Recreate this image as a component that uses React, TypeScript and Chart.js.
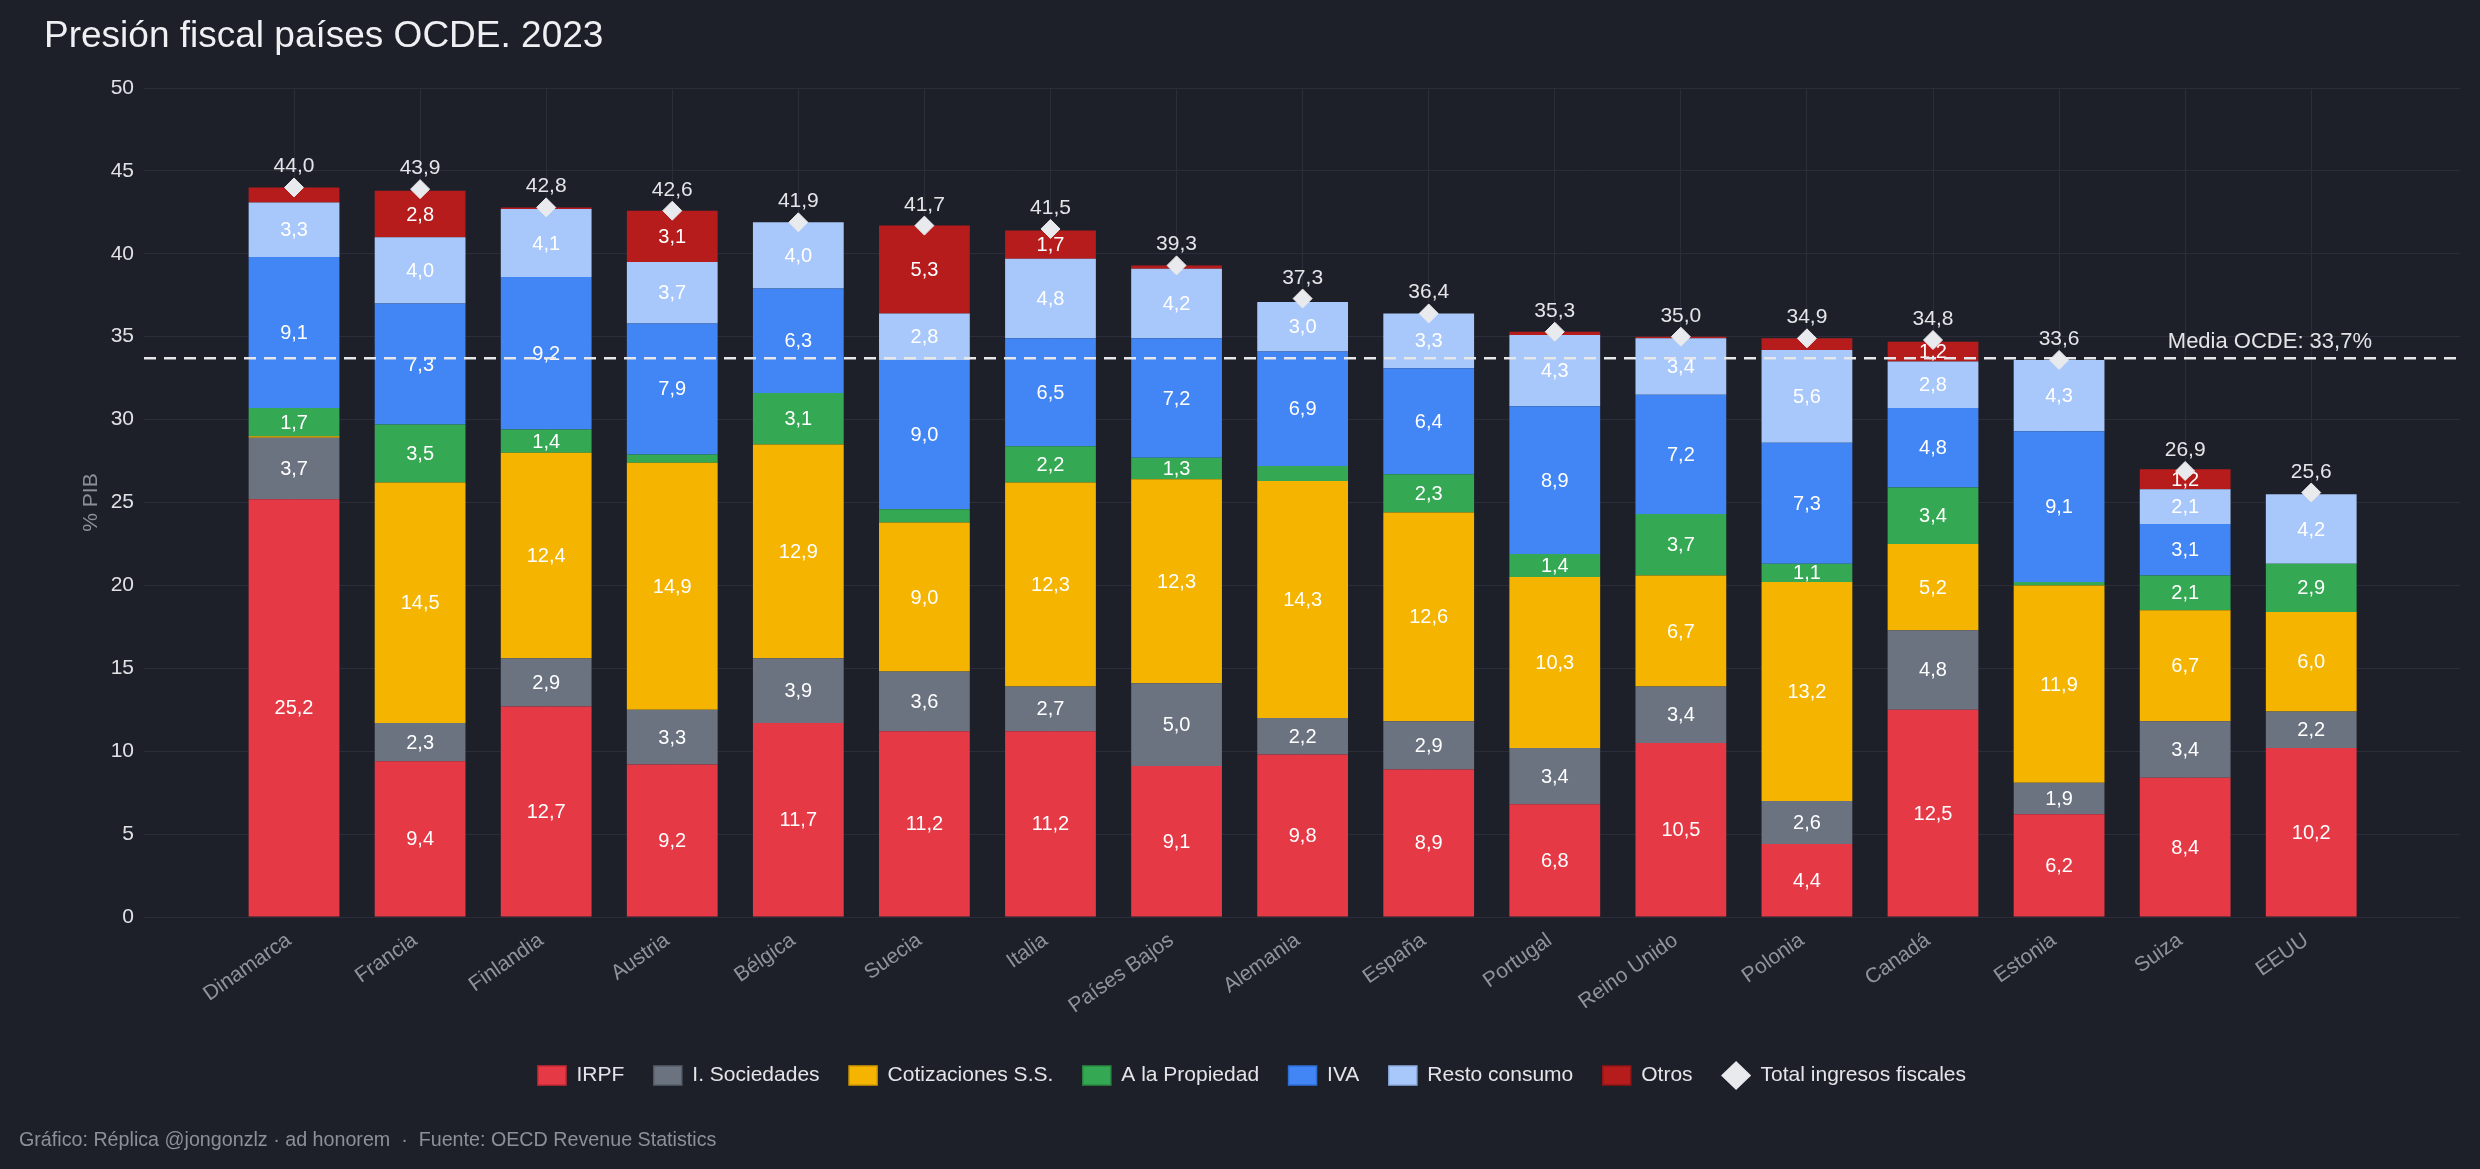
import { useEffect, useRef } from "react";
import { Chart, registerables } from "chart.js";

Chart.register(...registerables);

// Países ordenados por presión fiscal total (% del PIB)
const paises = [
  "Dinamarca", "Francia", "Finlandia", "Austria", "Bélgica", "Suecia", "Italia",
  "Países Bajos", "Alemania", "España", "Portugal", "Reino Unido", "Polonia",
  "Canadá", "Estonia", "Suiza", "EEUU",
];

// Componentes de la recaudación (% PIB)
const irpf = [25.2, 9.4, 12.7, 9.2, 11.7, 11.2, 11.2, 9.1, 9.8, 8.9, 6.8, 10.5, 4.4, 12.5, 6.2, 8.4, 10.2];
const sociedades = [3.7, 2.3, 2.9, 3.3, 3.9, 3.6, 2.7, 5.0, 2.2, 2.9, 3.4, 3.4, 2.6, 4.8, 1.9, 3.4, 2.2];
const cotizaciones = [0.1, 14.5, 12.4, 14.9, 12.9, 9.0, 12.3, 12.3, 14.3, 12.6, 10.3, 6.7, 13.2, 5.2, 11.9, 6.7, 6.0];
const propiedad = [1.7, 3.5, 1.4, 0.5, 3.1, 0.8, 2.2, 1.3, 0.9, 2.3, 1.4, 3.7, 1.1, 3.4, 0.2, 2.1, 2.9];
const iva = [9.1, 7.3, 9.2, 7.9, 6.3, 9.0, 6.5, 7.2, 6.9, 6.4, 8.9, 7.2, 7.3, 4.8, 9.1, 3.1, 0];
const restoConsumo = [3.3, 4.0, 4.1, 3.7, 4.0, 2.8, 4.8, 4.2, 3.0, 3.3, 4.3, 3.4, 5.6, 2.8, 4.3, 2.1, 4.2];
const otros = [0.9, 2.8, 0.1, 3.1, 0, 5.3, 1.7, 0.2, 0, 0, 0.2, 0.1, 0.7, 1.2, 0, 1.2, 0];

// Total de ingresos fiscales (% PIB)
const totales = [44.0, 43.9, 42.8, 42.6, 41.9, 41.7, 41.5, 39.3, 37.3, 36.4, 35.3, 35.0, 34.9, 34.8, 33.6, 26.9, 25.6];

const mediaOcde = 33.7;

const seriesNombres = ["IRPF", "I. Sociedades", "Cotizaciones S.S.", "A la Propiedad", "IVA", "Resto consumo", "Otros"];
const seriesValores = [irpf, sociedades, cotizaciones, propiedad, iva, restoConsumo, otros];
const seriesColores = ["#e63946", "#6b7280", "#f4b400", "#34a853", "#4285f4", "#a8c7fa", "#b71c1c"];
const seriesBordes = ["#c92a37", "#565d68", "#d39b00", "#2a8a43", "#2f6fd8", "#8eaee0", "#931414"];

const TITULO = "Presión fiscal países OCDE. 2023";
const PIE = "Gráfico: Réplica @jongonzlz · ad honorem  ·  Fuente: OECD Revenue Statistics";

const BG = "#1e2029";
const GRID = "#2b2e3a";
const DIAMANTE = "#e8eaed";
const FONT = "'Liberation Sans', Arial, Helvetica, sans-serif";

const fmt = (v: number) => v.toFixed(1).replace(".", ",");

export default function App() {
  const ref = useRef<HTMLCanvasElement>(null);

  useEffect(() => {
    const canvas = ref.current;
    if (!canvas) return;

    const barras = seriesNombres.map((nombre, s) => ({
      type: "bar" as const,
      label: nombre,
      data: seriesValores[s].map((v, i) => ({ x: i, y: v })),
      backgroundColor: seriesColores[s],
      borderColor: seriesBordes[s],
      borderWidth: 0,
      categoryPercentage: 1,
      barPercentage: 0.72,
      order: 1,
    }));

    const total = {
      type: "line" as const,
      label: "Total ingresos fiscales",
      data: totales.map((v, i) => ({ x: i, y: v })),
      showLine: false,
      pointStyle: "rectRot",
      pointRadius: 9.5,
      pointHoverRadius: 9.5,
      pointBackgroundColor: DIAMANTE,
      pointBorderColor: DIAMANTE,
      pointBorderWidth: 1,
      backgroundColor: DIAMANTE,
      borderColor: DIAMANTE,
      order: 0,
    };

    const rotulos = {
      id: "rotulos",
      afterDatasetDraw(chart: any, args: any) {
        if (args.index !== 0) return;
        const ctx = chart.ctx;
        const area = chart.chartArea;
        // valores dentro de cada segmento
        ctx.save();
        ctx.font = `20px ${FONT}`;
        ctx.fillStyle = "#ffffff";
        ctx.textAlign = "center";
        ctx.textBaseline = "middle";
        for (let s = 0; s < seriesNombres.length; s++) {
          const meta = chart.getDatasetMeta(s);
          meta.data.forEach((bar: any, i: number) => {
            const v = seriesValores[s][i];
            if (v < 1.05) return;
            ctx.fillText(fmt(v), bar.x, (bar.y + bar.base) / 2 + 1);
          });
        }
        // línea de la media OCDE
        const y = chart.scales.y.getPixelForValue(mediaOcde);
        ctx.strokeStyle = "#e6e7ea";
        ctx.lineWidth = 2.5;
        ctx.setLineDash([12, 8]);
        ctx.beginPath();
        ctx.moveTo(area.left, y);
        ctx.lineTo(area.right, y);
        ctx.stroke();
        ctx.setLineDash([]);
        ctx.font = `22px ${FONT}`;
        ctx.fillStyle = "#e3e5e8";
        ctx.textAlign = "right";
        ctx.textBaseline = "alphabetic";
        ctx.fillText(`Media OCDE: ${fmt(mediaOcde)}%`, area.right - 88, y - 10);
        ctx.restore();
      },
      afterDatasetsDraw(chart: any) {
        const ctx = chart.ctx;
        const meta = chart.getDatasetMeta(seriesNombres.length);
        ctx.save();
        ctx.font = `21px ${FONT}`;
        ctx.fillStyle = "#e3e5e8";
        ctx.textAlign = "center";
        ctx.textBaseline = "alphabetic";
        meta.data.forEach((pt: any, i: number) => {
          ctx.fillText(fmt(totales[i]), pt.x, pt.y - 15);
        });
        ctx.restore();
      },
      afterDraw(chart: any) {
        const ctx = chart.ctx;
        ctx.save();
        ctx.textAlign = "left";
        ctx.textBaseline = "alphabetic";
        ctx.font = `37px ${FONT}`;
        ctx.fillStyle = "#eef0f3";
        ctx.fillText(TITULO, 44, 47);
        ctx.font = `19.7px ${FONT}`;
        ctx.fillStyle = "#8b9099";
        ctx.fillText(PIE, 19, 1146);
        ctx.restore();
      },
    };

    const chart = new Chart(canvas, {
      type: "bar",
      data: { datasets: [...barras, total] as any },
      plugins: [rotulos],
      options: {
        responsive: false,
        animation: false,
        devicePixelRatio: 1,
        events: [],
        layout: { padding: { left: 44, right: 20, top: 88, bottom: 73 } },
        scales: {
          x: {
            type: "linear",
            stacked: true,
            offset: false,
            min: -1.19,
            max: 17.18,
            afterFit: (scale: any) => {
              scale.height = 118.5;
            },
            afterBuildTicks: (scale: any) => {
              scale.ticks = paises.map((_, i) => ({ value: i }));
            },
            grid: { color: GRID, drawTicks: false, lineWidth: 1, offset: false },
            border: { display: false },
            ticks: {
              autoSkip: false,
              minRotation: 35,
              maxRotation: 35,
              padding: 11,
              labelOffset: -5,
              color: "#8e939c",
              font: { family: FONT, size: 21 },
              callback: (value: any) => paises[value as number] ?? "",
            },
          },
          y: {
            stacked: true,
            min: 0,
            max: 50,
            afterFit: (scale: any) => {
              scale.width = 100;
            },
            grid: { color: GRID, drawTicks: false, lineWidth: 1 },
            border: { display: false },
            ticks: {
              stepSize: 5,
              padding: 10,
              color: "#dfe1e5",
              font: { family: FONT, size: 21 },
            },
            title: {
              display: true,
              text: "% PIB",
              color: "#8a8f99",
              font: { family: FONT, size: 21 },
              padding: { top: 35, bottom: 0 },
            },
          },
        },
        plugins: {
          tooltip: { enabled: false },
          legend: {
            position: "bottom",
            labels: {
              usePointStyle: true,
              pointStyleWidth: 28,
              boxHeight: 19,
              padding: 29.5,
              color: "#e3e5e8",
              font: { family: FONT, size: 21 },
              generateLabels: (c: any) =>
                c.data.datasets.map((ds: any, i: number) => ({
                  text: ds.label,
                  fillStyle: i < seriesNombres.length ? seriesColores[i] : DIAMANTE,
                  strokeStyle: i < seriesNombres.length ? seriesBordes[i] : DIAMANTE,
                  lineWidth: 1.5,
                  pointStyle: i < seriesNombres.length ? "rect" : "rectRot",
                  hidden: false,
                  datasetIndex: i,
                  fontColor: "#e3e5e8",
                })),
            },
          },
        },
      } as any,
    });

    return () => chart.destroy();
  }, []);

  return (
    <div style={{ position: "fixed", left: 0, top: 0, width: 2480, height: 1169, background: BG }}>
      <canvas ref={ref} width={2480} height={1169} style={{ display: "block", width: 2480, height: 1169 }} />
    </div>
  );
}
